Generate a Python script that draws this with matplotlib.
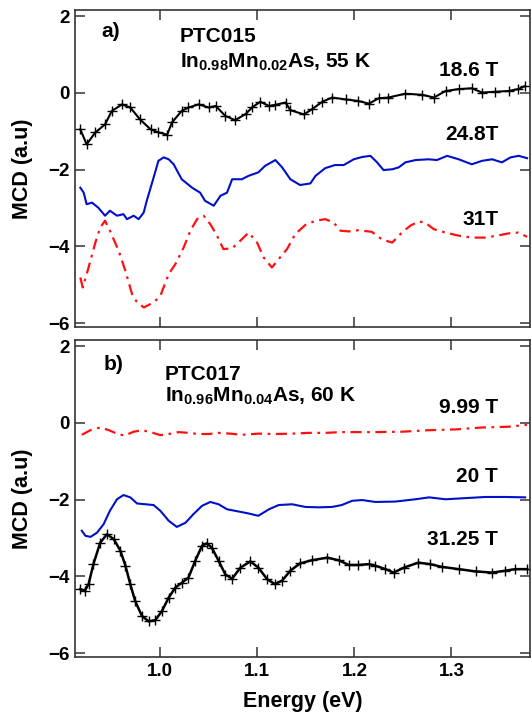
import matplotlib
matplotlib.use("Agg")
import matplotlib.pyplot as plt

plt.rcParams['font.family'] = ['Liberation Sans', 'DejaVu Sans']
plt.rcParams['font.weight'] = 'bold'
plt.rcParams['mathtext.fontset'] = 'custom'
plt.rcParams['mathtext.rm'] = 'Liberation Sans:bold'
plt.rcParams['mathtext.bf'] = 'Liberation Sans:bold'
plt.rcParams['mathtext.it'] = 'Liberation Sans:bold'

# ---- panel a) PTC015 ----
a186_x = [0.9175, 0.924, 0.933, 0.943, 0.950, 0.9605, 0.969, 0.979, 0.990, 0.998, 1.007, 1.012,
          1.022, 1.029, 1.0395, 1.050, 1.057, 1.067, 1.077, 1.088, 1.0945, 1.103, 1.112, 1.1186,
          1.129, 1.134, 1.148, 1.156, 1.167, 1.177, 1.191, 1.204, 1.215, 1.225, 1.235, 1.2526,
          1.27, 1.282, 1.294, 1.3075, 1.321, 1.3316, 1.345, 1.359, 1.369, 1.376]
a186_y = [-0.95, -1.34, -1.03, -0.82, -0.47, -0.30, -0.38, -0.69, -0.95, -1.03, -1.09, -0.77,
          -0.47, -0.38, -0.30, -0.38, -0.34, -0.60, -0.71, -0.55, -0.38, -0.23, -0.34, -0.31,
          -0.25, -0.45, -0.56, -0.43, -0.23, -0.12, -0.17, -0.21, -0.28, -0.14, -0.12, -0.02,
          -0.05, -0.12, 0.05, 0.10, 0.12, 0.01, 0.03, 0.05, 0.10, 0.18]

a248_x = [0.9175, 0.921, 0.924, 0.9296, 0.936, 0.943, 0.948, 0.9553, 0.962, 0.9656, 0.9725, 0.9776,
          0.9828, 0.986, 0.993, 0.998, 1.0034, 1.0086, 1.0137, 1.022, 1.0327, 1.041, 1.046, 1.055,
          1.062, 1.0687, 1.074, 1.084, 1.091, 1.101, 1.108, 1.1186, 1.1255, 1.134, 1.144, 1.1546,
          1.16, 1.170, 1.180, 1.189, 1.1993, 1.208, 1.2165, 1.2234, 1.230, 1.239, 1.2457, 1.2526,
          1.263, 1.2766, 1.285, 1.2956, 1.3075, 1.321, 1.3316, 1.342, 1.352, 1.361, 1.3694, 1.378]
a248_y = [-2.47, -2.60, -2.90, -2.86, -2.99, -3.20, -3.07, -3.20, -3.16, -3.29, -3.20, -3.29,
          -3.12, -2.81, -2.21, -1.77, -1.68, -1.73, -1.86, -2.25, -2.47, -2.60, -2.81, -2.94,
          -2.68, -2.60, -2.25, -2.25, -2.16, -2.07, -1.90, -1.75, -1.94, -2.25, -2.40, -2.36,
          -2.16, -1.96, -1.88, -1.88, -1.73, -1.67, -1.64, -1.81, -2.01, -1.99, -1.94, -1.81,
          -1.75, -1.73, -1.75, -1.64, -1.73, -1.86, -1.77, -1.73, -1.81, -1.68, -1.64, -1.70]

a31_x = [0.9175, 0.920, 0.926, 0.933, 0.938, 0.943, 0.948, 0.957, 0.964, 0.9708, 0.976, 0.983,
         0.993, 1.000, 1.0086, 1.0155, 1.024, 1.031, 1.0378, 1.0446, 1.0515, 1.0584, 1.065, 1.074,
         1.0825, 1.091, 1.0997, 1.1065, 1.115, 1.122, 1.1306, 1.139, 1.1495, 1.160, 1.170, 1.1787,
         1.1856, 1.194, 1.204, 1.218, 1.2285, 1.239, 1.249, 1.2577, 1.266, 1.273, 1.2818, 1.294,
         1.3075, 1.321, 1.335, 1.347, 1.359, 1.369, 1.378]
a31_y = [-4.81, -5.07, -4.55, -3.90, -3.51, -3.33, -3.59, -4.11, -4.64, -5.24, -5.46, -5.59,
         -5.46, -5.29, -4.72, -4.46, -4.03, -3.59, -3.29, -3.20, -3.42, -3.72, -4.07, -4.05,
         -3.85, -3.64, -3.90, -4.29, -4.55, -4.33, -4.07, -3.68, -3.44, -3.33, -3.29, -3.38,
         -3.59, -3.61, -3.58, -3.62, -3.82, -3.90, -3.64, -3.46, -3.35, -3.38, -3.55, -3.64,
         -3.72, -3.77, -3.77, -3.72, -3.66, -3.64, -3.75]

# ---- panel b) PTC017 ----
b999_x = [0.919, 0.928, 0.938, 0.947, 0.955, 0.963, 0.9725, 0.981, 0.990, 1.000, 1.0086, 1.019,
          1.029, 1.0395, 1.05, 1.060, 1.072, 1.084, 1.101, 1.1186, 1.136, 1.153, 1.170, 1.187,
          1.204, 1.2216, 1.249, 1.277, 1.304, 1.3316, 1.359, 1.378]
b999_y = [-0.31, -0.19, -0.12, -0.19, -0.28, -0.33, -0.23, -0.19, -0.24, -0.32, -0.29, -0.24,
          -0.26, -0.29, -0.29, -0.26, -0.28, -0.31, -0.28, -0.29, -0.28, -0.26, -0.26, -0.24,
          -0.24, -0.24, -0.23, -0.19, -0.17, -0.12, -0.10, -0.05]

b20_x = [0.919, 0.9227, 0.928, 0.9347, 0.9415, 0.948, 0.9553, 0.962, 0.969, 0.976, 0.9845, 0.993,
         1.000, 1.0086, 1.017, 1.026, 1.034, 1.043, 1.0515, 1.060, 1.0687, 1.081, 1.091, 1.101,
         1.112, 1.122, 1.1358, 1.1495, 1.163, 1.177, 1.187, 1.1976, 1.208, 1.2216, 1.242, 1.263,
         1.277, 1.294, 1.3144, 1.335, 1.3557, 1.376]
b20_y = [-2.81, -2.94, -2.97, -2.86, -2.64, -2.29, -1.99, -1.88, -1.94, -2.10, -2.12, -2.14,
         -2.29, -2.55, -2.71, -2.60, -2.38, -2.16, -2.06, -2.12, -2.25, -2.31, -2.36, -2.42,
         -2.25, -2.14, -2.12, -2.19, -2.20, -2.19, -2.14, -2.03, -2.01, -2.06, -2.05, -1.99,
         -1.94, -1.99, -1.96, -1.93, -1.93, -1.94]

b3125_x = [0.9175, 0.922, 0.926, 0.931, 0.938, 0.945, 0.952, 0.9588, 0.964, 0.969, 0.974, 0.981,
           0.988, 0.9948, 1.0017, 1.0086, 1.0155, 1.0224, 1.029, 1.036, 1.043, 1.048, 1.053, 1.060,
           1.067, 1.074, 1.0825, 1.0928, 1.101, 1.110, 1.118, 1.1255, 1.134, 1.144, 1.156, 1.172,
           1.184, 1.194, 1.204, 1.215, 1.2216, 1.232, 1.2405, 1.251, 1.266, 1.278, 1.290, 1.3075,
           1.325, 1.342, 1.3557, 1.366, 1.378]
b3125_y = [-4.33, -4.38, -4.20, -3.68, -3.12, -2.90, -3.03, -3.33, -3.72, -4.20, -4.64, -5.03,
           -5.17, -5.14, -4.90, -4.55, -4.29, -4.16, -4.03, -3.59, -3.20, -3.14, -3.25, -3.59,
           -3.95, -4.06, -3.77, -3.61, -3.77, -4.07, -4.20, -4.11, -3.85, -3.66, -3.58, -3.51,
           -3.58, -3.70, -3.70, -3.68, -3.72, -3.81, -3.90, -3.77, -3.64, -3.68, -3.75, -3.81,
           -3.87, -3.90, -3.85, -3.81, -3.81]

xticks = [1.0, 1.1, 1.2, 1.3]
yticks = [-6, -4, -2, 0, 2]

blue = '#0010c8'
red = '#ff1010'
dashdot = (0, (5, 2.5, 1.2, 2.5))

fig = plt.figure(figsize=(5.31, 7.26), dpi=100)
ax1 = fig.add_axes([0.1412, 0.5496, 0.8569, 0.4366])
ax2 = fig.add_axes([0.1412, 0.0950, 0.8569, 0.4367])

for ax in (ax1, ax2):
    ax.set_xlim(0.912, 1.381)
    ax.set_ylim(-6.1, 2.16)
    ax.set_xticks(xticks)
    ax.set_yticks(yticks)
    ax.tick_params(direction='in', length=7, width=1.1, top=True, right=True,
                   labelsize=13.5, pad=4, color='#333333')
    for s in ax.spines.values():
        s.set_color('#333333')
        s.set_linewidth(1.2)
    ax.set_ylabel('MCD (a.u)', fontsize=15.5, fontweight='bold')
    ax.yaxis.set_label_coords(-0.092, 0.5)

ax1.set_xticklabels([])
ax2.set_xticklabels(['1.0', '1.1', '1.2', '1.3'])
ax2.set_xlabel('Energy (eV)', fontsize=15.5, fontweight='bold', labelpad=8)

# top panel curves
ax1.plot(a186_x, a186_y, color='black', lw=1.5, marker='+', ms=7, mew=1.0)
ax1.plot(a248_x, a248_y, color=blue, lw=1.5)
ax1.plot(a31_x, a31_y, color=red, lw=1.6, linestyle=dashdot)

# bottom panel curves
ax2.plot(b999_x, b999_y, color=red, lw=1.6, linestyle=dashdot)
ax2.plot(b20_x, b20_y, color=blue, lw=1.5)
ax2.plot(b3125_x, b3125_y, color='black', lw=1.8, marker='+', ms=7, mew=1.0)

fs = 15
ax1.text(0.059, 0.915, 'a)', transform=ax1.transAxes, fontsize=fs, va='baseline')
ax1.text(0.231, 0.90, 'PTC015', transform=ax1.transAxes, fontsize=fs, va='baseline')
ax1.text(0.231, 0.817, r'In$_{0.98}$Mn$_{0.02}$As, 55 K', transform=ax1.transAxes,
         fontsize=fs, va='baseline')
ax1.text(0.93, 0.792, '18.6 T', transform=ax1.transAxes, fontsize=fs, ha='right', va='baseline')
ax1.text(0.93, 0.59, '24.8T', transform=ax1.transAxes, fontsize=fs, ha='right', va='baseline')
ax1.text(0.93, 0.322, '31T', transform=ax1.transAxes, fontsize=fs, ha='right', va='baseline')

ax2.text(0.062, 0.905, 'b)', transform=ax2.transAxes, fontsize=fs, va='baseline')
ax2.text(0.198, 0.874, 'PTC017', transform=ax2.transAxes, fontsize=fs, va='baseline')
ax2.text(0.198, 0.805, r'In$_{0.96}$Mn$_{0.04}$As, 60 K', transform=ax2.transAxes,
         fontsize=fs, va='baseline')
ax2.text(0.93, 0.77, '9.99 T', transform=ax2.transAxes, fontsize=fs, ha='right', va='baseline')
ax2.text(0.93, 0.553, '20 T', transform=ax2.transAxes, fontsize=fs, ha='right', va='baseline')
ax2.text(0.93, 0.353, '31.25 T', transform=ax2.transAxes, fontsize=fs, ha='right', va='baseline')

fig.savefig('out.png', dpi=100)
